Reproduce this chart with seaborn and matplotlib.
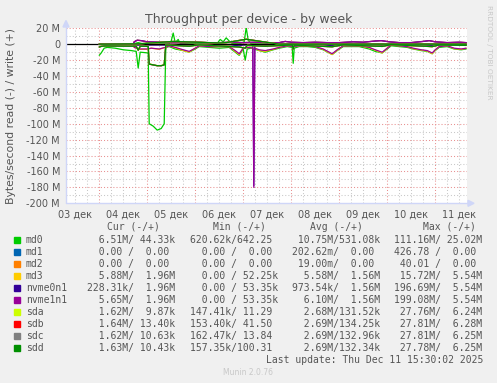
import numpy as np
import pandas as pd
import matplotlib
matplotlib.use("Agg")
import matplotlib.pyplot as plt
from matplotlib.patches import Polygon, Rectangle
import seaborn as sns

# ---------------- data (hours since 04 Dec 00:00, values in MB/s) ----------------
devices = ["md0", "md1", "md2", "md3", "nvme0n1", "nvme1n1", "sda", "sdb", "sdc", "sdd"]
colors = ["#00CC00", "#0066B3", "#FF8000", "#FFCC00", "#330099",
          "#990099", "#CCFF00", "#FF0000", "#808080", "#008F00"]

md0_read_h = [0, 1, 2.5, 4, 8, 12, 16, 18.5, 19.5, 20.5, 24.5, 25, 27, 29, 31, 32.5, 33.3, 35, 38, 42,
              45, 48, 50, 55, 60, 65, 68, 70, 72, 73, 74, 76, 80, 83, 87, 90, 94, 96.5, 97, 97.5,
              100, 104, 108, 112, 116.5, 119, 122, 126, 130, 135, 138, 141.5, 144, 146, 150, 154, 157, 161, 164, 166.5,
              168, 170, 174, 177.5, 181, 183.5]
md0_read = [14, 11, 5, 4, 5, 7, 8, 9, 30, 10, 11, 100, 103, 108, 106, 100, 4, 3, 6, 8,
            10, 6, 3, 4, 5, 4, 10, 14, 6, 20, 6, 5, 8, 10, 7, 5, 3, 4, 24, 5,
            3, 3, 4, 7, 13, 8, 3, 3, 3, 6, 9, 11, 6, 2, 3, 4, 6, 8, 9, 12,
            8, 4, 3, 6, 7, 6]
md0_write_h = [0, 10, 17, 19.5, 22, 30, 35, 36, 37, 38, 39.5, 40.5, 45, 55, 59, 60.5, 62, 63.5, 65, 66.5,
               70, 72.5, 73.5, 74.5, 76, 90, 110, 130, 150, 170, 183.5]
md0_write = [0.2, 0.3, 0.5, 2, 0.5, 0.3, 0.5, 4, 14, 2, 6, 1, 0.5, 0.5, 1, 6, 3, 8, 4, 1,
             0.5, 3, 21, 5, 0.5, 0.4, 0.5, 0.4, 0.5, 0.6, 0.3]

zero_h = [0, 183.5]
md1_read = [0, 0]
md1_write = [0, 0]
md2_read = [0, 0]
md2_write = [0, 0]

nvme_h = [0, 17, 17.5, 20, 24, 26, 30, 33, 35, 38, 42, 45, 48, 50, 55, 60, 65, 68, 70, 72,
          75, 76.8, 77.3, 77.8, 80, 83, 87, 90, 94, 97, 100, 104, 108, 112, 116.5, 119, 122, 126, 130, 135,
          138, 141.5, 144, 146, 150, 154, 157, 161, 164, 166.5, 168, 170, 174, 177.5, 181, 183.5]
md3_read = [0, 0, 4, 6.5, 6.5, 5, 6.5, 4, 2, 4.5, 8, 10, 5, 2, 3, 3, 3, 9, 13, 5,
            4, 5, 5, 5, 8, 9, 6.5, 4, 2, 3, 2, 2, 3, 6.5, 13, 7.5, 2, 2, 2, 4.5,
            7.5, 11, 5, 1, 2, 3, 5.5, 7.5, 8.5, 12, 7.5, 3, 2, 5.5, 6.5, 5]
nvme0n1_read = [0, 0, 1, 1, 1, 1, 1, 1, 0.5, 1, 1, 1.5, 1, 0.5, 0.5, 0.5, 0.5, 1.5, 2, 1,
                1, 1, 178, 1, 1, 1.5, 1, 1, 0.5, 0.5, 0.5, 0.5, 0.5, 1, 2, 1, 0.5, 0.5, 0.5, 1,
                1, 1.5, 1, 0.3, 0.5, 0.5, 1, 1, 1.5, 2, 1, 0.5, 0.5, 1, 1, 0.2]
nvme1n1_read = [0, 0, 4, 6, 6, 5, 6, 4, 2, 4, 7, 9, 5, 2, 3, 3, 3, 8, 12, 5,
                4, 5, 180, 5, 7, 8, 6, 4, 2, 3, 2, 2, 3, 6, 12, 7, 2, 2, 2, 4,
                7, 10, 5, 1, 2, 3, 5, 7, 8, 11, 7, 3, 2, 5, 6, 5]
mirror_write_h = [0, 17, 17.5, 19, 21, 24, 30, 36, 42, 48, 54, 60, 66, 72, 78, 84, 90, 93, 96, 102,
                  108, 114, 120, 127, 132, 138, 141, 145, 150, 156, 162, 165, 168, 174, 180, 183.5]
mirror_write = [0, 0, 3, 5, 4.5, 3, 2.5, 2, 2, 2.5, 2, 2, 2.5, 2, 2.5, 2, 2, 3.5, 2.5, 2,
                2.5, 2, 2, 3, 2.5, 4, 4.5, 3, 2, 2, 3.5, 4.5, 3, 2, 2.5, 2]

sd_h = [0, 1, 2.5, 4, 12, 18.5, 19.5, 20.5, 24.5, 25, 27, 29, 31, 32.5, 33.3, 45, 50, 70, 73, 74,
        83, 96.5, 97, 97.5, 116.5, 122, 141.5, 146, 166.5, 170, 183.5]
sda_read = [3.4, 2.7, 2.2, 2.1, 2.3, 2.5, 7.4, 2.6, 2.7, 24.8, 25.8, 26.9, 26.8, 25.9, 1, 2.4, 0.8, 3.4, 5, 1.5,
            2.5, 1, 5.9, 1.2, 3.1, 0.8, 2.7, 0.5, 3, 1, 1.4]
sdb_read = [3.5, 2.8, 2.3, 2.2, 2.4, 2.6, 7.6, 2.6, 2.8, 25.1, 26.1, 27.1, 27.0, 26.1, 1, 2.5, 0.8, 3.5, 5.1, 1.5,
            2.5, 1, 6.1, 1.2, 3.2, 0.8, 2.8, 0.5, 3.1, 1, 1.5]
sdc_read = [3.5, 2.8, 2.2, 2.2, 2.4, 2.5, 7.5, 2.5, 2.8, 25.0, 26.0, 27.0, 27.1, 26.0, 1, 2.5, 0.8, 3.5, 5, 1.5,
            2.5, 1, 6, 1.2, 3.2, 0.8, 2.8, 0.5, 3, 1, 1.5]
sdd_read = [3.5, 2.8, 2.2, 2.2, 2.4, 2.5, 7.5, 2.5, 2.8, 25.0, 26.0, 27.0, 27.0, 26.0, 1, 2.5, 0.8, 3.5, 5, 1.5,
            2.5, 1, 6, 1.2, 3.2, 0.8, 2.8, 0.5, 3, 1, 1.5]
sd_write_h = [0, 20, 37, 60.5, 63.5, 73.5, 90, 130, 183.5]
sda_write = [0.05, 0.5, 3.4, 1.5, 2.0, 6.2, 0.1, 0.1, 0.05]
sdb_write = [0.05, 0.5, 3.5, 1.5, 2.0, 6.3, 0.1, 0.1, 0.05]
sdc_write = [0.05, 0.5, 3.5, 1.5, 2.0, 6.2, 0.1, 0.1, 0.05]
sdd_write = [0.05, 0.5, 3.5, 1.5, 2.0, 6.2, 0.1, 0.1, 0.05]

series = {
    "md0": (md0_read_h, md0_read, md0_write_h, md0_write),
    "md1": (zero_h, md1_read, zero_h, md1_write),
    "md2": (zero_h, md2_read, zero_h, md2_write),
    "md3": (nvme_h, md3_read, mirror_write_h, mirror_write),
    "nvme0n1": (nvme_h, nvme0n1_read, mirror_write_h, mirror_write),
    "nvme1n1": (nvme_h, nvme1n1_read, mirror_write_h, mirror_write),
    "sda": (sd_h, sda_read, sd_write_h, sda_write),
    "sdb": (sd_h, sdb_read, sd_write_h, sdb_write),
    "sdc": (sd_h, sdc_read, sd_write_h, sdc_write),
    "sdd": (sd_h, sdd_read, sd_write_h, sdd_write),
}

day_labels = ["03 дек", "04 дек", "05 дек", "06 дек", "07 дек", "08 дек", "09 дек", "10 дек", "11 дек"]
day_noons = [-12, 12, 36, 60, 84, 108, 132, 156, 180]
y_ticks = [20, 0, -20, -40, -60, -80, -100, -120, -140, -160, -180, -200]
y_labels = ["20 M", "0", "-20 M", "-40 M", "-60 M", "-80 M", "-100 M", "-120 M",
            "-140 M", "-160 M", "-180 M", "-200 M"]

cur_col = ["  6.51M/ 44.33k", "  0.00 /  0.00 ", "  0.00 /  0.00 ", "  5.88M/  1.96M", "228.31k/  1.96M",
           "  5.65M/  1.96M", "  1.62M/  9.87k", "  1.64M/ 13.40k", "  1.62M/ 10.63k", "  1.63M/ 10.43k"]
min_col = ["620.62k/642.25 ", "  0.00 /  0.00 ", "  0.00 /  0.00 ", "  0.00 / 52.25k", "  0.00 / 53.35k",
           "  0.00 / 53.35k", "147.41k/ 11.29 ", "153.40k/ 41.50 ", "162.47k/ 13.84 ", "157.35k/100.31 "]
avg_col = [" 10.75M/531.08k", "202.62m/  0.00 ", " 19.00m/  0.00 ", "  5.58M/  1.56M", "973.54k/  1.56M",
           "  6.10M/  1.56M", "  2.68M/131.52k", "  2.69M/134.25k", "  2.69M/132.96k", "  2.69M/132.34k"]
max_col = ["111.16M/ 25.02M", "426.78 /  0.00 ", " 40.01 /  0.00 ", " 15.72M/  5.54M", "196.69M/  5.54M",
           "199.08M/  5.54M", " 27.76M/  6.24M", " 27.81M/  6.28M", " 27.81M/  6.25M", " 27.78M/  6.25M"]

# ---------------- build long table ----------------
rows = []
for dev in devices:
    rh, rv, wh, wv = series[dev]
    for h, v in zip(rh, rv):
        rows.append((dev, "read", h, -v))
    for h, v in zip(wh, wv):
        rows.append((dev, "write", h, v))
df = pd.DataFrame(rows, columns=["device", "dir", "h", "v"])
pal = dict(zip(devices, colors))

# ---------------- figure ----------------
sns.set_theme(style="white")
plt.rcParams["font.family"] = ["DejaVu Sans"]
W, H = 497, 383
fig = plt.figure(figsize=(W / 100, H / 100), dpi=100, facecolor="#F0F0F0")

def fx(px):
    return px / W

def fy(py):
    return 1 - py / H

ax_l, ax_r, ax_t, ax_b = 66, 467, 28.3, 203.3
ax = fig.add_axes([fx(ax_l), fy(ax_b), (ax_r - ax_l) / W, (ax_b - ax_t) / H])
ax.set_facecolor("white")
for s in ax.spines.values():
    s.set_visible(False)
ax.set_xlim(-16.6, 183.9)
ax.set_ylim(-200, 20)

TXT = "#555555"
dot = (0, (1, 2))
# grid
for h in range(-12, 184, 6):
    if h % 24 == 0:
        ax.axvline(h, color="#E89090", lw=0.75, ls=dot, zorder=0.5)
    else:
        ax.axvline(h, color="#C8C8C8", lw=0.75, ls=dot, zorder=0.4)
for y in range(-190, 21, 10):
    if y % 20 == 0:
        ax.axhline(y, color="#E89090", lw=0.75, ls=dot, zorder=0.5)
    else:
        ax.axhline(y, color="#C8C8C8", lw=0.75, ls=dot, zorder=0.4)

first = devices[:6]
second = devices[6:]
sns.lineplot(data=df[df.device.isin(first)], x="h", y="v", hue="device", units="dir",
             estimator=None, palette=pal, hue_order=first, legend=False,
             linewidth=0.9, ax=ax, sort=False, zorder=2)
ax.axhline(0, color="black", lw=0.9, zorder=2.5)
sns.lineplot(data=df[df.device.isin(second)], x="h", y="v", hue="device", units="dir",
             estimator=None, palette=pal, hue_order=second, legend=False,
             linewidth=0.9, ax=ax, sort=False, zorder=3)

ax.set_xticks(day_noons)
ax.set_xticklabels(day_labels)
ax.set_yticks(y_ticks)
ax.set_yticklabels(y_labels)
ax.tick_params(axis="both", length=0, labelsize=7, colors=TXT)
ax.tick_params(axis="x", pad=4.5)
ax.tick_params(axis="y", pad=4.3)
ax.set_xlabel("")
ax.set_ylabel("")
ax.grid(False)

# axis lines with arrows
AX = "#CFD6F8"
fig.add_artist(plt.Line2D([fx(ax_l), fx(ax_l)], [fy(ax_b), fy(24)], color=AX, lw=1))
fig.add_artist(plt.Line2D([fx(ax_l), fx(470)], [fy(ax_b), fy(ax_b)], color=AX, lw=1))
fig.add_artist(Polygon([[fx(ax_l), fy(20.5)], [fx(ax_l - 3), fy(27)], [fx(ax_l + 3), fy(27)]],
                       closed=True, color=AX, transform=fig.transFigure))
fig.add_artist(Polygon([[fx(474), fy(ax_b)], [fx(468), fy(ax_b - 3)], [fx(468), fy(ax_b + 3)]],
                       closed=True, color=AX, transform=fig.transFigure))

# titles
fig.text(fx(248.5), fy(19.5), "Throughput per device - by week", ha="center", va="center",
         fontsize=9, color=TXT)
fig.text(fx(11), fy(116.5), "Bytes/second read (-) / write (+)", rotation=90,
         ha="center", va="center", fontsize=7.8, color=TXT)
fig.text(fx(489), fy(5), "RRDTOOL / TOBI OETIKER", rotation=270, ha="center", va="top",
         fontsize=5.3, color="#C8C8C8")

# legend table
mono = "DejaVu Sans Mono"
hdr_y = 226.5
for xh, t in zip([107, 212.7, 310, 422.7], ["Cur (-/+)", "Min (-/+)", "Avg (-/+)", "Max (-/+)"]):
    fig.text(fx(xh), fy(hdr_y), t, family=mono, fontsize=7, color=TXT, ha="left", va="center")
for i, dev in enumerate(devices):
    yy = 240 + 12 * i
    fig.add_artist(Rectangle((fx(14), fy(yy + 3)), 6 / W, 6 / H, color=colors[i],
                             transform=fig.transFigure))
    fig.text(fx(26), fy(yy), dev, family=mono, fontsize=7, color=TXT, ha="left", va="center")
    for xs, col in zip([87.3, 190, 292.2, 394.3], [cur_col, min_col, avg_col, max_col]):
        fig.text(fx(xs), fy(yy), col[i], family=mono, fontsize=7, color=TXT, ha="left", va="center")
fig.text(fx(483), fy(360), "Last update: Thu Dec 11 15:30:02 2025", family=mono, fontsize=7,
         color=TXT, ha="right", va="center")
fig.text(fx(248), fy(372.5), "Munin 2.0.76", fontsize=5.5, color="#C8C8C8", ha="center", va="center")

fig.savefig("out.png", dpi=100, facecolor=fig.get_facecolor())
